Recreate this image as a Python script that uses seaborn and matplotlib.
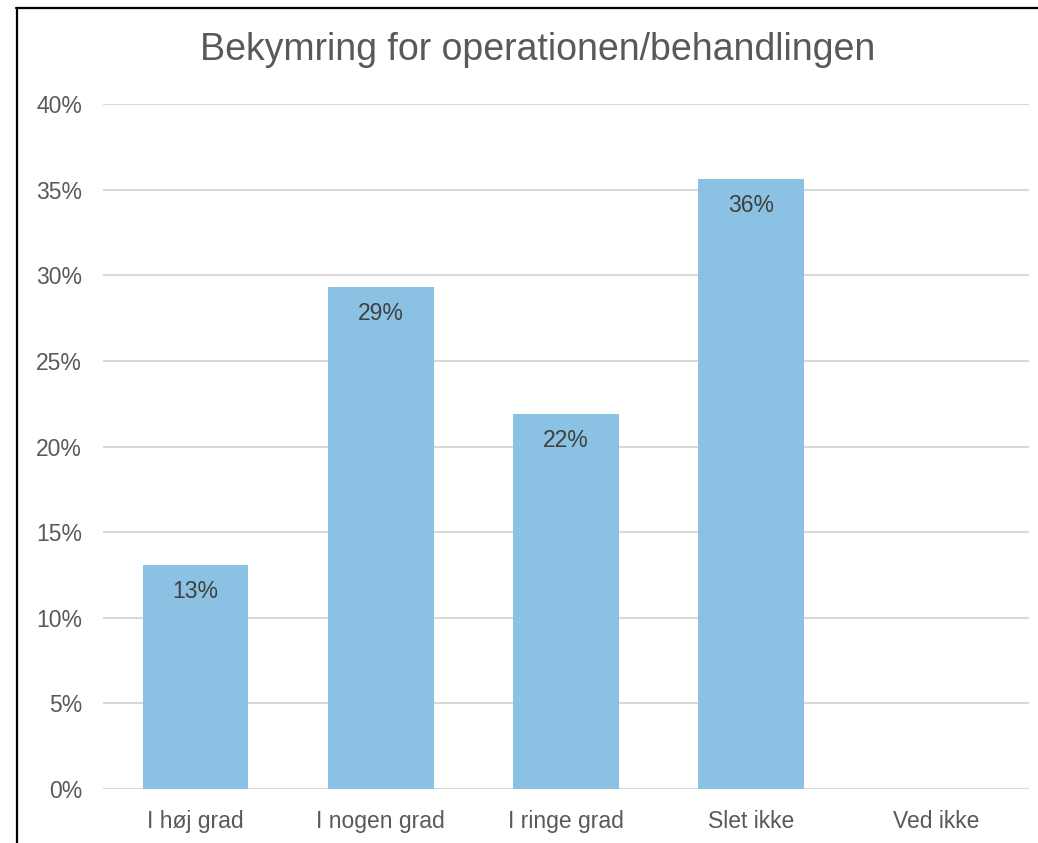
import matplotlib
matplotlib.use('Agg')
import matplotlib.pyplot as plt
from matplotlib.lines import Line2D
from matplotlib.ticker import PercentFormatter
import seaborn as sns

categories = ['I høj grad', 'I nogen grad', 'I ringe grad', 'Slet ikke', 'Ved ikke']
values = [0.131, 0.293, 0.219, 0.356, 0.0]
labels = ['13%', '29%', '22%', '36%', '']
title = 'Bekymring for operationen/behandlingen'

sns.set_style('white')
plt.rcParams['font.family'] = ['Liberation Sans', 'DejaVu Sans']

bar_color = '#8BC1E3'
text_color = '#595959'

fig = plt.figure(figsize=(10.38, 8.43), dpi=100)
ax = fig.add_axes([103 / 1038, 1 - 789 / 843, 926 / 1038, 685 / 843])

sns.barplot(x=categories, y=values, color=bar_color, width=0.57,
            saturation=1, linewidth=0, ax=ax)

ax.set_ylim(0, 0.40)
ax.set_xlim(-0.5, 4.5)
ax.set_yticks([i * 0.05 for i in range(9)])
ax.yaxis.set_major_formatter(PercentFormatter(1.0, decimals=0))
ax.grid(axis='y', color='#D9D9D9', linewidth=1.5)
ax.set_axisbelow(True)
for s in ax.spines.values():
    s.set_visible(False)
ax.tick_params(axis='both', length=0, labelsize=16.5, colors=text_color)
ax.tick_params(axis='y', pad=15)
ax.tick_params(axis='x', pad=15)
ax.set_xlabel('')
ax.set_ylabel('')

for i, (v, lab) in enumerate(zip(values, labels)):
    if lab:
        ax.annotate(lab, (i, v), xytext=(0, -19), textcoords='offset points',
                    ha='center', va='center', fontsize=16.5, color='#404040')

fig.text(538 / 1038, 1 - 50 / 843, title, ha='center', va='center',
         fontsize=27, color=text_color)

# chart frame (top and left edges visible)
fig.add_artist(Line2D([16 / 1038, 1], [1 - 8 / 843, 1 - 8 / 843],
                      transform=fig.transFigure, color='black', linewidth=1.6))
fig.add_artist(Line2D([17 / 1038, 17 / 1038], [1 - 8 / 843, 0],
                      transform=fig.transFigure, color='black', linewidth=1.6))

fig.savefig('out.png', dpi=100)
